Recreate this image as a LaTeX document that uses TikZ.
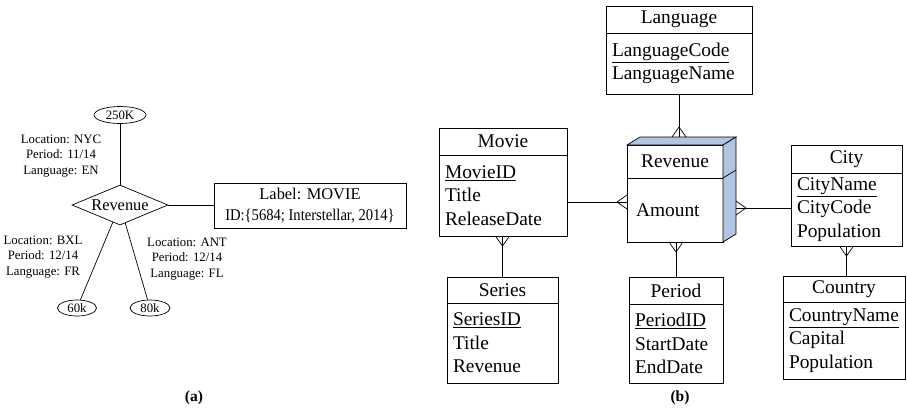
\documentclass[tikz,border=0pt]{standalone}
\usepackage{fontspec}
\setmainfont{Liberation Serif}
\usepackage{tikz}
\usetikzlibrary{positioning, shapes.geometric, calc}
\definecolor{cubeblue}{RGB}{178,196,226}
\tikzset{%
  small/.style = {font = \fontsize{12.8}{15.5}\selectfont, align = center},
  big/.style = {font = \fontsize{16.4}{21}\selectfont},
  ent/.style = {font = \fontsize{19.4}{23.5}\selectfont},
  value/.style = {ellipse, draw, small, inner sep = 0pt},
  head/.style = {ent, rectangle, draw, minimum width = #1, inner sep = 0pt, outer sep = 0pt, anchor = north west},
  body/.style = {ent, rectangle, draw, text width = #1, inner xsep = 6pt, inner ysep = 0pt, outer sep = 0pt, align = left},
  cube/.style = {draw, fill = cubeblue},
  caption/.style = {font = \bfseries\fontsize{15.5}{17}\selectfont}
}
\newcommand{\crowfoot}[2]{%
  \draw ($(#1)+(#2:10)$) -- ($(#1)+({#2+90}:7)$)
        ($(#1)+(#2:10)$) -- ($(#1)+({#2-90}:7)$);}

\begin{document}
\begin{tikzpicture}[x=1pt, y=-1pt, line width=0.7pt]
    \useasboundingbox (0,0) rectangle (907,408);
    % (a) instance
    \node[diamond, draw, big, aspect=2.4, inner sep=0pt, minimum width=96pt, minimum height=40pt] at (120,205) (Rev) {Revenue};
    \node[value, minimum width=52pt, minimum height=17pt] at (120,115) (ValNYC) {250K};
    \node[value, minimum width=39pt, minimum height=16pt] at (77,308) (ValBXL) {60k};
    \node[value, minimum width=40pt, minimum height=16pt] at (150,308) (ValANT) {80k};
    \node[big, draw, align=center, minimum width=192pt, minimum height=45pt, inner sep=0pt] at (310,205.5) (MovieLabel) {Label: MOVIE\\\scalebox{0.89}[1]{ID:\{5684; Interstellar, 2014\}}};
    \node[small] at (61,156) (LabNYC) {Location: NYC\\Period: 11/14\\Language: EN};
    \node[small] at (43,257) (LabBXL) {Location: BXL\\Period: 12/14\\Language: FR};
    \node[small] at (187,259) (LabANT) {Location: ANT\\Period: 12/14\\Language: FL};
    \draw (ValNYC) -- (Rev);
    \draw (Rev) -- (ValBXL);
    \draw (Rev) -- (ValANT);
    \draw (Rev.east) -- (Rev.east -| MovieLabel.west);
    \node[caption] at (194,398) (CapA) {(a)};

    % (b) schema
    \node[head=146pt, minimum height=27pt] at (606,6) (Language) {Language};
    \node[body=134pt, minimum height=61pt, below=0pt of Language] (LanguageBody) {\underline{LanguageCode}\\LanguageName};
    \node[head=128pt, minimum height=27pt] at (439,128) (Movie) {Movie};
    \node[body=116pt, minimum height=81pt, below=0pt of Movie] (MovieBody) {\underline{MovieID}\\Title\\ReleaseDate};
    \node[head=111pt, minimum height=28pt] at (791,145) (City) {City};
    \node[body=99pt, minimum height=73pt, below=0pt of City] (CityBody) {\underline{CityName}\\CityCode\\Population};
    \node[head=111pt, minimum height=26pt] at (447,277) (Series) {Series};
    \node[body=99pt, minimum height=80pt, below=0pt of Series] (SeriesBody) {\underline{SeriesID}\\Title\\Revenue};
    \node[head=94pt, minimum height=27pt] at (629,277) (Period) {Period};
    \node[body=82pt, minimum height=79pt, below=0pt of Period] (PeriodBody) {\underline{PeriodID}\\StartDate\\EndDate};
    \node[head=122pt, minimum height=26pt] at (783,276) (Country) {Country};
    \node[body=110pt, minimum height=77pt, below=0pt of Country] (CountryBody) {\underline{CountryName}\\Capital\\Population};
    % fact cube
    \node[head=96pt, minimum height=33pt] at (627,145) (Revenue) {Revenue};
    \node[body=78pt, inner xsep=9pt, minimum height=64pt, below=0pt of Revenue] (RevenueBody) {Amount};
    \draw[cube] (Revenue.north west) -- ++(13,-8) -- ++(96,0) -- (Revenue.north east) -- cycle;
    \draw[cube] (Revenue.north east) -- ++(13,-8) -- ++(0,97) -- (RevenueBody.south east) -- cycle;
    \draw (Revenue.south east) -- ++(13,-8);

    \coordinate (RevTop) at ([xshift=13pt, yshift=8pt]Revenue.north);
    \coordinate (RevLeft) at ([yshift=8pt]RevenueBody.west);
    \coordinate (RevRight) at ([xshift=13pt, yshift=2pt]RevenueBody.east);
    \coordinate (RevBottom) at (Period.north |- RevenueBody.south);
    \coordinate (MovieBottom) at (Series.north |- MovieBody.south);
    \coordinate (CityBottom) at (CityBody.south);

    \draw (LanguageBody.south) -- (LanguageBody.south |- RevTop);
    \crowfoot{LanguageBody.south |- RevTop}{-90}
    \draw (RevLeft) -- (RevLeft -| MovieBody.east);
    \crowfoot{RevLeft}{180}
    \draw (RevRight) -- (RevRight -| CityBody.west);
    \crowfoot{RevRight}{0}
    \draw (RevBottom) -- (Period.north);
    \crowfoot{RevBottom}{90}
    \draw (MovieBottom) -- (Series.north);
    \crowfoot{MovieBottom}{90}
    \draw (CityBottom) -- (CityBottom |- Country.north);
    \crowfoot{CityBottom}{90}
    \node[caption] at (680,398) (CapB) {(b)};
  \end{tikzpicture}
\end{document}
